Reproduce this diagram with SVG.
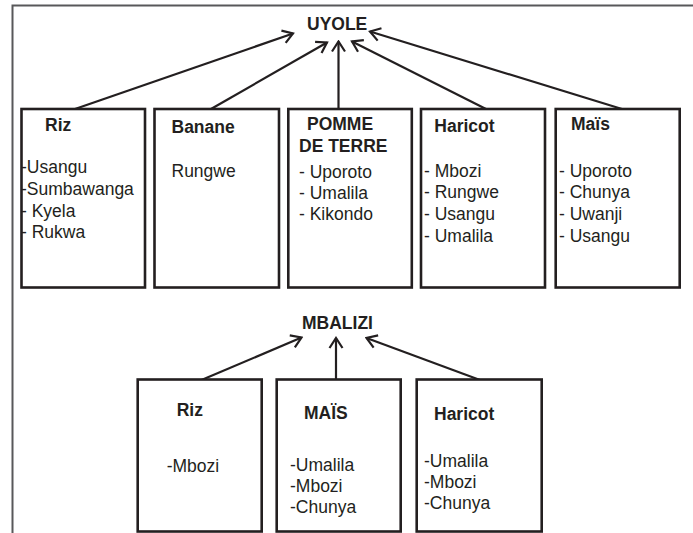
<svg xmlns="http://www.w3.org/2000/svg" width="693" height="533" viewBox="0 0 693 533">
<style>
text{font-family:"Liberation Sans",Arial,sans-serif;font-size:17.5px;fill:#231f20}
.b{font-weight:bold}
.box{fill:#fff;stroke:#231f20;stroke-width:2.6}
.con line{stroke:#231f20;stroke-width:2.2;marker-end:url(#ah)}
.frame{stroke:#58585a;stroke-width:2;fill:none}
</style>
<defs>
<marker id="ah" viewBox="-13 -8 15 16" refX="0" refY="0" markerWidth="15" markerHeight="16" markerUnits="userSpaceOnUse" orient="auto">
<path d="M-10,-6.5 L0,0 L-10,6.5" fill="none" stroke="#231f20" stroke-width="2.2"/>
</marker>
</defs>
<rect width="693" height="533" fill="#fff"/>
<path class="frame" d="M12.5,533 L12.5,5.5 L693,5.5"/>

<g id="uyole"><text class="b" x="307" y="30">UYOLE</text></g>
<g id="mbalizi"><text class="b" x="302" y="329">MBALIZI</text></g>

<g id="connectors" class="con">
<line x1="75" y1="109" x2="293" y2="33.5"/>
<line x1="211" y1="109" x2="327" y2="42.5"/>
<line x1="338.5" y1="109" x2="338.5" y2="41.5"/>
<line x1="486" y1="109" x2="352" y2="41.5"/>
<line x1="622" y1="109" x2="370" y2="31.5"/>
<line x1="201.5" y1="380" x2="301.5" y2="337.5"/>
<line x1="336" y1="380" x2="336" y2="338"/>
<line x1="480" y1="380" x2="366.5" y2="338"/>
</g>

<g id="riz">
<rect class="box" x="21.5" y="109" width="123.5" height="178.5"/>
<text class="b" x="45" y="131">Riz</text>
<text x="21" y="173.3">-Usangu</text>
<text x="21" y="195">-Sumbawanga</text>
<text x="21" y="216.7">- Kyela</text>
<text x="21" y="237.7">- Rukwa</text>
</g>
<g id="banane">
<rect class="box" x="154.5" y="109" width="124.5" height="178.5"/>
<text class="b" x="171.5" y="133">Banane</text>
<text x="171.5" y="177">Rungwe</text>
</g>
<g id="pomme">
<rect class="box" x="288.3" y="109" width="123.5" height="178.5"/>
<text class="b" x="307" y="130">POMME</text>
<text class="b" x="299" y="152">DE TERRE</text>
<text x="299" y="178">- Uporoto</text>
<text x="299" y="199">- Umalila</text>
<text x="299" y="220">- Kikondo</text>
</g>
<g id="haricot">
<rect class="box" x="421" y="109" width="124" height="178.5"/>
<text class="b" x="434.3" y="131.7">Haricot</text>
<text x="424" y="176.7">- Mbozi</text>
<text x="424" y="198.3">- Rungwe</text>
<text x="424" y="220">- Usangu</text>
<text x="424" y="241.7">- Umalila</text>
</g>
<g id="mais">
<rect class="box" x="555.7" y="109" width="124" height="178.5"/>
<text class="b" x="571" y="130">Maïs</text>
<text x="559" y="176.7">- Uporoto</text>
<text x="559" y="198.3">- Chunya</text>
<text x="559" y="220">- Uwanji</text>
<text x="559" y="241.7">- Usangu</text>
</g>

<g id="riz2">
<rect class="box" x="137.7" y="379.5" width="124" height="152"/>
<text class="b" x="176.7" y="416">Riz</text>
<text x="166.7" y="471.7">-Mbozi</text>
</g>
<g id="mais2">
<rect class="box" x="276.7" y="379.5" width="124" height="152"/>
<text class="b" x="304" y="419.3">MAÏS</text>
<text x="290" y="471">-Umalila</text>
<text x="290" y="491.7">-Mbozi</text>
<text x="290" y="512.7">-Chunya</text>
</g>
<g id="haricot2">
<rect class="box" x="416.7" y="379.5" width="125" height="152"/>
<text class="b" x="434" y="420">Haricot</text>
<text x="424" y="466.7">-Umalila</text>
<text x="424" y="488.3">-Mbozi</text>
<text x="424" y="509.3">-Chunya</text>
</g>
</svg>
